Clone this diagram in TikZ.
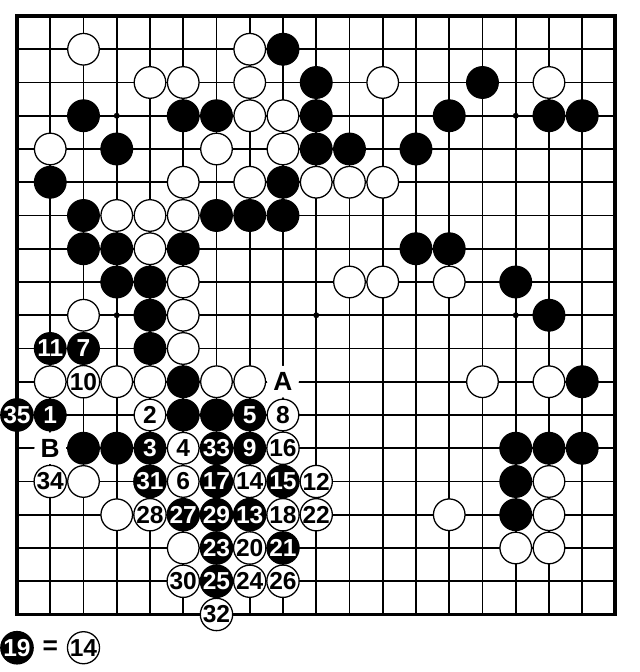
\documentclass[tikz,border=0pt]{standalone}
\usepackage{fontspec}
\setmainfont{Liberation Sans}
\newcommand\stonefont{\fontsize{21}{22}\selectfont\bfseries}
\newcommand\letterfont{\fontsize{22.5}{23}\selectfont\bfseries}
\tikzset{
  stone/.style={circle,inner sep=0pt,minimum size=0.95cm,line width=1.1pt,
    font=\stonefont},
  bstone/.style={stone,draw=black,fill=black,text=white},
  wstone/.style={stone,draw=black,fill=white,text=black},
  boardlabel/.style={stone,fill=white,text=black,font=\letterfont},
  hoshi/.style={circle,fill=black,inner sep=0pt,minimum size=0.18cm}
}
\begin{document}
\begin{tikzpicture}[x=1cm,y=-1cm]
    \useasboundingbox (0.489,0.519) rectangle (19.737,20.73);
    %% Grid lines and border
    \foreach \i in {2,...,18} {
        \draw[line width=1.45pt] (1,\i) -- (19,\i);
        \draw[line width=1.45pt] (\i,1) -- (\i,19);
    }
    \draw[line width=3.4pt] (1,1) rectangle (19,19);
    %% Star points
    \foreach \c in {4,10,16}
        \foreach \r in {4,10,16}
            \node[hoshi] (h\c-\r) at (\c,\r) {};
    %% Black stones
    \foreach \c/\r in {9/2,10/3,15/3,3/4,6/4,7/4,10/4,14/4,17/4,18/4,
        4/5,10/5,11/5,13/5,2/6,9/6,3/7,7/7,8/7,9/7,3/8,4/8,6/8,13/8,14/8,
        4/9,5/9,16/9,5/10,17/10,5/11,6/12,18/12,6/13,7/13,
        3/14,4/14,16/14,17/14,18/14,16/15,16/16}
        \node[bstone] (b\c-\r) at (\c,\r) {};
    %% White stones
    \foreach \c/\r in {3/2,8/2,5/3,6/3,8/3,12/3,17/3,8/4,9/4,2/5,7/5,9/5,
        6/6,8/6,10/6,11/6,12/6,4/7,5/7,6/7,5/8,6/9,11/9,12/9,14/9,3/10,6/10,
        6/11,2/12,4/12,5/12,7/12,8/12,15/12,17/12,3/15,17/15,4/16,14/16,17/16,
        6/17,16/17,17/17}
        \node[wstone] (w\c-\r) at (\c,\r) {};
    %% Numbered moves
    \foreach \c/\r/\n in {2/13/1,5/14/3,8/13/5,3/11/7,8/14/9,2/11/11,8/16/13,
        9/15/15,7/15/17,9/17/21,7/17/23,7/18/25,6/16/27,7/16/29,5/15/31,
        7/14/33,1/13/35}
        \node[bstone] (m\n) at (\c,\r) {\n};
    \foreach \c/\r/\n in {5/13/2,6/14/4,6/15/6,9/13/8,3/12/10,10/15/12,
        8/15/14,9/14/16,9/16/18,8/17/20,10/16/22,8/18/24,9/18/26,5/16/28,
        6/18/30,7/19/32,2/15/34}
        \node[wstone] (m\n) at (\c,\r) {\n};
    %% Points A and B
    \node[boardlabel] (A) at (9,12) {A};
    \node[boardlabel] (B) at (2,14) {B};
    %% Legend
    \node[bstone] (l19) at (1,20) {19};
    \node[stone,font=\letterfont] (eq) at (2,20) {=};
    \node[wstone] (l14) at (3,20) {14};
\end{tikzpicture}
\end{document}
